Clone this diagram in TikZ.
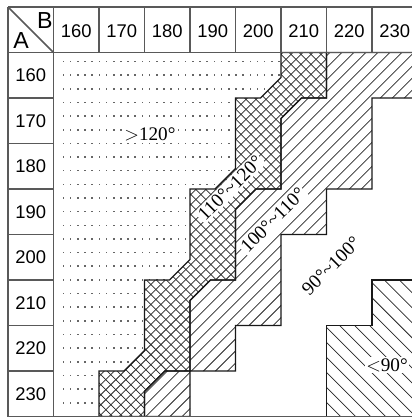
\documentclass[tikz,border=0pt]{standalone}
\usepackage{fontspec}
\setmainfont{Liberation Serif}
\newfontfamily\headfont{Liberation Sans}
\usetikzlibrary{positioning, calc}
\tikzset{
    grid line/.style={draw=black!65, line width=0.9pt},
    zone line/.style={draw=black!90, line width=0.7pt},
    hatch line/.style={draw=black!85, line width=0.45pt},
    head/.style={font=\headfont\fontsize{11.5}{13}\selectfont, inner sep=0pt},
    corner/.style={font=\headfont\fontsize{14.5}{16}\selectfont, inner sep=0pt},
    zone label/.style={font=\fontsize{12}{14}\selectfont, fill=white, inner sep=1pt},
}
\newcommand{\Deg}[1]{#1°}
\newcommand{\Range}[2]{\Deg{#1}\textasciitilde\Deg{#2}}

\begin{document}
\begin{tikzpicture}[y=-1cm]
    \useasboundingbox (-0.176,-0.154) rectangle (8.879,9.011);

    \def\dotzone{(1,1) -- (6,1) -- (6,1.55) -- (5.55,2) -- (5,2) -- (5,3.55) -- (4.55,4) -- (4,4)
        -- (4,5.55) -- (3.55,6) -- (3,6) -- (3,7.55) -- (2.55,8) -- (2,8) -- (2,9) -- (1,9) -- cycle}
    \def\crosszone{(6,1) -- (7,1) -- (7,2) -- (6.45,2) -- (6,2.45) -- (6,4) -- (5.45,4) -- (5,4.45)
        -- (5,6) -- (4.45,6) -- (4,6.45) -- (4,8) -- (3.45,8) -- (3,8.45) -- (3,9) -- (2,9) -- (2,8)
        -- (2.55,8) -- (3,7.55) -- (3,6) -- (3.55,6) -- (4,5.55) -- (4,4) -- (4.55,4) -- (5,3.55)
        -- (5,2) -- (5.55,2) -- (6,1.55) -- cycle}
    \def\linezone{(7,1) -- (9,1) -- (9,2) -- (8,2) -- (8,4) -- (7,4) -- (7,5) -- (6,5) -- (6,7)
        -- (5,7) -- (5,8) -- (4,8) -- (4,9) -- (3,9) -- (3,8.45) -- (3.45,8) -- (4,8) -- (4,6.45)
        -- (4.45,6) -- (5,6) -- (5,4.45) -- (5.45,4) -- (6,4) -- (6,2.45) -- (6.45,2) -- (7,2) -- cycle}
    \def\lowzone{(8,6) -- (9,6) -- (9,9) -- (7,9) -- (7,7) -- (8,7) -- cycle}

    % >120: dots
    \begin{scope}
        \clip \dotzone;
        \foreach \i in {0,...,27}
            \foreach \j in {0,...,32}
                \fill[black!60] (1.2+\j*0.158, 1.18+\i*0.3) rectangle ++(0.035,0.035);
    \end{scope}

    % 110-120: cross hatch
    \begin{scope}
        \clip \crosszone;
        \foreach \c in {0,0.22,...,16}
            \draw[hatch line] (\c,0) -- ++(-10,10);
        \foreach \c in {-10,-9.78,...,8}
            \draw[hatch line] (\c,0) -- ++(10,10);
    \end{scope}

    % 100-110: north east lines
    \begin{scope}
        \clip \linezone;
        \foreach \c in {2,2.264,...,20}
            \draw[hatch line] (\c,0) -- ++(-10,10);
    \end{scope}

    % <90: north west lines
    \begin{scope}
        \clip \lowzone;
        \foreach \c in {-4,-3.67,...,4}
            \draw[hatch line] (\c,0) -- ++(10,10);
    \end{scope}

    \draw[zone line] \crosszone;
    \draw[zone line] \linezone;
    \draw[zone line] \lowzone;

    % table frame
    \draw[grid line] (0,0) -- (9,0);
    \draw[grid line] (0,1) -- (9,1);
    \draw[grid line] (0,9) -- (9,9);
    \draw[grid line] (0,0) -- (0,9);
    \draw[grid line] (1,0) -- (1,9);
    \foreach \k in {2,...,9} {
        \draw[grid line] (\k,0) -- (\k,1);
        \draw[grid line] (0,\k) -- (1,\k);
    }
    \draw[grid line] (0,0) -- (1,1);

    \node[corner] (headB) at (0.81,0.30) {B};
    \node[corner] (headA) at (0.29,0.74) {A};
    \foreach \v [count=\i] in {160,170,...,230} {
        \node[head] (b\v) at (\i+0.5,0.52) {\v};
        \node[head] (a\v) at (0.5,\i+0.5) {\v};
    }

    \node[zone label] (over) at (3.12,2.81) {$>$\Deg{120}};
    \node[zone label, rotate=45] (cross) at (4.88,3.98) {\Range{110}{120}};
    \node[zone label, rotate=45] (lines) at (5.82,4.68) {\Range{100}{110}};
    \node[zone label, rotate=45] (blank) at (7.10,5.69) {\Range{90}{100}};
    \node[zone label] (under) at (8.33,7.87) {$<$\Deg{90}};
\end{tikzpicture}
\end{document}
